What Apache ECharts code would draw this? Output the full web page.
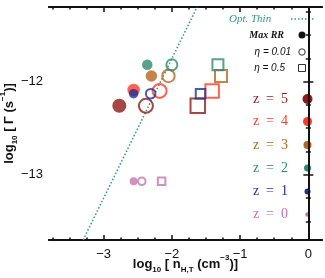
<!DOCTYPE html>
<html>
<head>
<meta charset="utf-8">
<script src="https://cdn.jsdelivr.net/npm/echarts@6/dist/echarts.min.js"></script>
<style>
  html, body {margin: 0; padding: 0; background: #fff;}
  #chart {width: 325px; height: 278px;}
</style>
</head>
<body>
<div id="chart"></div>
<script>
// redshift bins, top to bottom as in the key
var zLabels = ['z = 5', 'z = 4', 'z = 3', 'z = 2', 'z = 1', 'z = 0'];
var zColors = ['#8e1a17', '#ff3b25', '#b5651e', '#2d8a70', '#1e2f9b', '#c774ae'];
var zDotSize = [10, 9, 8, 7, 6, 4.5];

// Max RR (filled circles)
var maxRRx = [-2.77, -2.56, -2.30, -2.36, -2.56, -2.56];
var maxRRy = [-12.26, -12.09, -11.94, -11.82, -12.13, -13.07];
var maxRRsize = [14, 12.5, 11.5, 10.5, 9.5, 8];

// eta = 0.01 (open circles)
var eta1x = [-2.38, -2.18, -2.05, -2.00, -2.31, -2.44];
var eta1y = [-12.26, -12.10, -11.94, -11.82, -12.13, -13.07];
var eta1size = [14, 14, 12.5, 11, 9.5, 7.5];

// eta = 0.5 (open squares)
var eta5x = [-1.62, -1.41, -1.28, -1.325, -1.58, -2.15];
var eta5y = [-12.26, -12.10, -11.94, -11.82, -12.13, -13.07];
var eta5size = [14.5, 13.5, 12, 11, 9.5, 7.5];

// optically thin relation
var thinX = [-3.30, -1.63];
var thinY = [-13.70, -11.20];

var xMajor = [-3, -2, -1, 0];
var xMinor = [-3.75, -3.5, -3.25, -2.75, -2.5, -2.25, -1.75, -1.5, -1.25, -0.75, -0.5, -0.25];
var yMajor = [-13, -12];
var yMinor = [-13.5, -13.25, -12.75, -12.5, -12.25, -11.75, -11.5, -11.25];

var xMin = -3.8, xMax = 0.2, yMin = -13.7, yMax = -11.2;

function pts(xs, ys, sizes, open) {
  return xs.map(function (x, i) {
    return {
      value: [x, ys[i]],
      symbolSize: sizes[i],
      itemStyle: open
        ? {color: 'rgba(0,0,0,0)', borderColor: zColors[i], borderWidth: 2}
        : {color: zColors[i]}
    };
  });
}

function minus(v) {
  return String(v).replace('-', '\u2212');
}

// one axis per side for the major ticks, one more for the minor ones
function sideAxis(pos, isX, ticks, len, withLabel) {
  return {
    type: 'value',
    position: pos,
    min: isX ? xMin : yMin,
    max: isX ? xMax : yMax,
    axisLine: {show: true, lineStyle: {color: '#111', width: 2}},
    axisTick: {show: true, inside: true, length: len, customValues: ticks,
      lineStyle: {color: '#111', width: 1.5}},
    axisLabel: withLabel ? {customValues: ticks, formatter: minus, color: '#111',
      fontSize: 13, fontFamily: 'Liberation Sans', margin: isX ? 8 : 6} : {show: false},
    splitLine: {show: false}
  };
}

var richName = {
  a: {fontSize: 13, fontWeight: 'bold', fontFamily: 'Liberation Sans', color: '#111', lineHeight: 20, verticalAlign: 'middle'},
  s: {fontSize: 8, fontWeight: 'bold', fontFamily: 'Liberation Sans', color: '#111', lineHeight: 8, verticalAlign: 'bottom'},
  p: {fontSize: 8, fontWeight: 'bold', fontFamily: 'Liberation Sans', color: '#111', lineHeight: 8, verticalAlign: 'top'}
};

var xBottom = sideAxis('bottom', true, xMajor, 5, true);
xBottom.name = '{a|log}{s|10}{a| [ n}{s|H,T}{a| (cm}{p|\u22123}{a|)]}';
xBottom.nameLocation = 'middle';
xBottom.nameGap = 14;
xBottom.nameMoveOverlap = false;
xBottom.nameTextStyle = {rich: richName};

var yLeft = sideAxis('left', false, yMajor, 5, true);
yLeft.name = '{a|log}{s|10}{a| [ \u0393 (s}{p|\u22121}{a|)]}';
yLeft.nameLocation = 'middle';
yLeft.nameGap = 30;
yLeft.nameMoveOverlap = false;
yLeft.nameTextStyle = {rich: richName};

var legendFont = 'Liberation Serif';
var graphics = [
  {type: 'text', x: 229, y: 19, style: {text: 'Opt. Thin', fill: '#3a9a8a', verticalAlign: 'middle', font: 'italic 11px "Liberation Serif"'}},
  {type: 'line', shape: {x1: 291, y1: 19, x2: 315, y2: 19}, style: {stroke: '#3a9a8a', lineWidth: 1.5, lineDash: [1.5, 2]}},
  {type: 'text', x: 284, y: 35, style: {text: 'Max RR', fill: '#111', align: 'right', verticalAlign: 'middle', font: 'italic bold 10px "Liberation Serif"'}},
  {type: 'circle', shape: {cx: 302, cy: 35, r: 3.5}, style: {fill: '#111'}},
  {type: 'text', x: 291, y: 52, style: {text: '\u03b7 = 0.01', fill: '#111', align: 'right', verticalAlign: 'middle', font: 'italic 10px "Liberation Sans"'}},
  {type: 'circle', shape: {cx: 302, cy: 52, r: 3.2}, style: {fill: 'none', stroke: '#333', lineWidth: 1}},
  {type: 'text', x: 285, y: 68, style: {text: '\u03b7 = 0.5', fill: '#111', align: 'right', verticalAlign: 'middle', font: 'italic 10px "Liberation Sans"'}},
  {type: 'rect', shape: {x: 298.5, y: 64.5, width: 7, height: 7}, style: {fill: 'none', stroke: '#333', lineWidth: 1}}
];
var zRows = [99, 121.5, 145, 168, 191.5, 214.5];
zLabels.forEach(function (lab, i) {
  graphics.push({type: 'text', x: 288, y: zRows[i], style: {text: lab.replace(/ /g, '  '), fill: zColors[i],
    align: 'right', verticalAlign: 'middle', font: '14px "' + legendFont + '"'}});
  graphics.push({type: 'circle', shape: {cx: 307.5, cy: zRows[i], r: zDotSize[i] / 2}, style: {fill: zColors[i]}});
});

var chart = echarts.init(document.getElementById('chart'), null, {renderer: 'canvas'});
chart.setOption({
  animation: false,
  backgroundColor: '#fff',
  grid: {left: 49, right: 3, top: 7, bottom: 38, containLabel: false, outerBoundsMode: 'none'},
  xAxis: [
    xBottom,
    sideAxis('bottom', true, xMinor, 2.5, false),
    sideAxis('top', true, xMajor, 5, false),
    sideAxis('top', true, xMinor, 2.5, false)
  ],
  yAxis: [
    yLeft,
    sideAxis('left', false, yMinor, 2.5, false),
    sideAxis('right', false, yMajor, 5, false),
    sideAxis('right', false, yMinor, 2.5, false)
  ],
  graphic: graphics,
  series: [
    {
      type: 'line',
      data: thinX.map(function (x, i) { return [x, thinY[i]]; }),
      symbol: 'none',
      clip: true,
      lineStyle: {color: '#3a9a8a', width: 1.6, type: [1.5, 2]},
      z: 1
    },
    {type: 'scatter', symbol: 'rect', data: pts(eta5x, eta5y, eta5size, true), z: 2},
    {type: 'scatter', symbol: 'circle', data: pts(eta1x, eta1y, eta1size, true), z: 3},
    {type: 'scatter', symbol: 'circle', data: pts(maxRRx, maxRRy, maxRRsize, false), z: 4}
  ]
});
</script>
</body>
</html>
